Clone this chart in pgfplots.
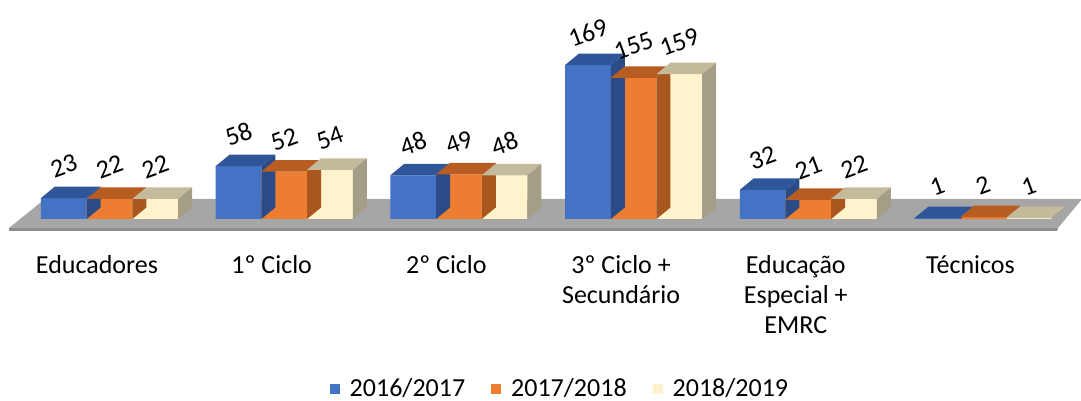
\documentclass[border=0pt]{standalone}
\usepackage{pgfplots}
\pgfplotsset{compat=1.18}
\usepackage{pgfplotstable}
\usepackage{fontspec}
\setmainfont{Carlito}

\definecolor{cA}{HTML}{4472C4}
\definecolor{cAt}{HTML}{30569A}
\definecolor{cAs}{HTML}{2B4B87}
\definecolor{cB}{HTML}{ED7D31}
\definecolor{cBt}{HTML}{B85D22}
\definecolor{cBs}{HTML}{A9561F}
\definecolor{cC}{HTML}{FFF2CC}
\definecolor{cCt}{HTML}{C4BB9C}
\definecolor{cCs}{HTML}{A39E85}
\definecolor{floorc}{HTML}{A6A6A6}
\definecolor{floore}{HTML}{8C8C8C}

\pgfplotstableread{
g v1 v2 v3
0 23 22 22
1 58 52 54
2 48 49 48
3 169 155 159
4 32 21 22
5 1 2 1
}\datatab

\newlength\barh
\newlength\barhb
% top face, drawn at the front-top-centre of a bar
\pgfdeclareplotmark{boxtop}{%
  \pgfpathmoveto{\pgfpoint{-11.425pt}{0pt}}%
  \pgfpathlineto{\pgfpoint{11.425pt}{0pt}}%
  \pgfpathlineto{\pgfpoint{18.425pt}{5.75pt}}%
  \pgfpathlineto{\pgfpoint{-4.425pt}{5.75pt}}%
  \pgfpathclose
  \pgfusepath{fill}%
}
% side face, depends on the bar height \barval
\pgfdeclareplotmark{boxside}{%
  \pgfmathsetlength\barh{-\barval*0.4555pt}%
  \pgfmathsetlength\barhb{5.75pt-\barval*0.4555pt}%
  \pgfpathmoveto{\pgfpoint{11.425pt}{0pt}}%
  \pgfpathlineto{\pgfpoint{18.425pt}{5.75pt}}%
  \pgfpathlineto{\pgfpoint{18.425pt}{\barhb}}%
  \pgfpathlineto{\pgfpoint{11.425pt}{\barh}}%
  \pgfpathclose
  \pgfusepath{fill}%
}

\begin{document}
\begin{tikzpicture}
\path[use as bounding box] (0,0) rectangle (540.5pt,200.5pt);
% floor
\begin{scope}[x=0.5pt,y=0.5pt]
  \fill[floore] (9,173) -- (1058,173) -- (1057,170) -- (9,170) -- cycle;
  \fill[floorc] (9,173) -- (1058,173) -- (1082,202) -- (45,202) -- cycle;
\end{scope}
\begin{axis}[
  at={(-6.395pt,81.89pt)}, anchor=south west,
  x=87.35pt, y=0.4555pt,
  xmin=-0.7, xmax=5.6, ymin=-20, ymax=200,
  clip=false,
  axis line style={draw=none},
  major tick length=0pt,
  ytick=\empty,
  xtick={0,1,2,3,4,5},
  xticklabels={Educadores,1º Ciclo,2º Ciclo,{3º Ciclo +\\Secundário},{Educação\\Especial +\\EMRC},Técnicos},
  xticklabel style={align=center, font=\fontsize{13}{15}\selectfont, xshift=-6.25pt, yshift=-5.5pt},
  /pgf/number format/assume math mode=true,
  every node near coord/.append style={font=\fontsize{13}{15}\selectfont, anchor=center, yshift=16pt, rotate=20, inner sep=0pt, text=black},
  legend columns=3,
  legend style={at={(axis cs:2.584,-187)}, anchor=center, draw=none, fill=none,
    inner sep=1pt,
    font=\fontsize{13}{15}\selectfont,
    /tikz/every even column/.append style={column sep=11pt}},
  legend image code/.code={\fill[#1] (0pt,-2.5pt) rectangle (5pt,2.5pt); \path (0pt,0pt) -- (8pt,0pt);},
]
% 2016/2017
\addplot[ybar, bar width=22.85pt, bar shift=-22.85pt, fill=cA, draw=none] table[x=g, y=v1] {\datatab};
\addlegendentry{2016/2017}
\addplot[only marks, mark=boxtop, color=cAt, forget plot, nodes near coords] table[x expr=\thisrow{g}-0.2616, y=v1] {\datatab};
\addplot[only marks, mark=boxside, color=cAs, forget plot, visualization depends on={\thisrow{v1} \as \barval}] table[x expr=\thisrow{g}-0.2616, y=v1] {\datatab};
% 2017/2018
\addplot[ybar, bar width=22.85pt, bar shift=0pt, fill=cB, draw=none] table[x=g, y=v2] {\datatab};
\addlegendentry{2017/2018}
\addplot[only marks, mark=boxtop, color=cBt, forget plot, nodes near coords] table[x=g, y=v2] {\datatab};
\addplot[only marks, mark=boxside, color=cBs, forget plot, visualization depends on={\thisrow{v2} \as \barval}] table[x=g, y=v2] {\datatab};
% 2018/2019
\addplot[ybar, bar width=22.85pt, bar shift=22.85pt, fill=cC, draw=none] table[x=g, y=v3] {\datatab};
\addlegendentry{2018/2019}
\addplot[only marks, mark=boxtop, color=cCt, forget plot, nodes near coords] table[x expr=\thisrow{g}+0.2616, y=v3] {\datatab};
\addplot[only marks, mark=boxside, color=cCs, forget plot, visualization depends on={\thisrow{v3} \as \barval}] table[x expr=\thisrow{g}+0.2616, y=v3] {\datatab};
\end{axis}
\end{tikzpicture}
\end{document}
